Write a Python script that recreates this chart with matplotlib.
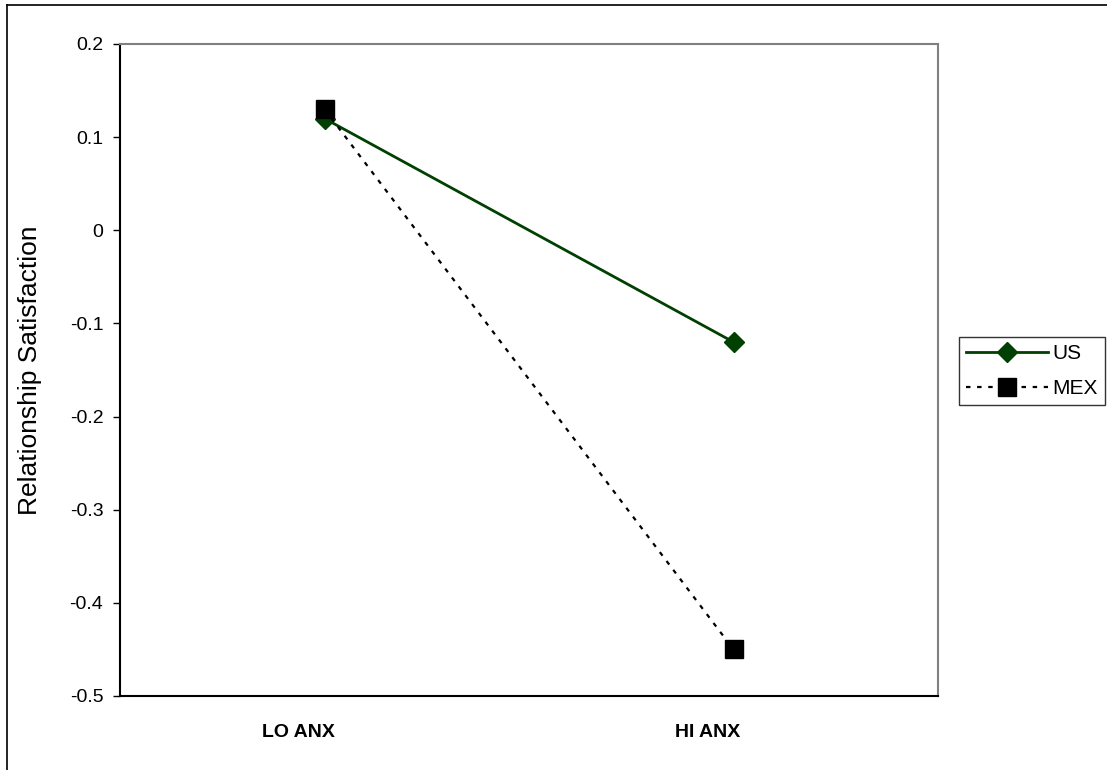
import matplotlib.pyplot as plt
import matplotlib as mpl
from matplotlib.lines import Line2D
from matplotlib.transforms import ScaledTranslation

mpl.rcParams['font.family'] = ['Liberation Sans', 'DejaVu Sans']

# data
categories = ['LO ANX', 'HI ANX']
us_vals = [0.12, -0.12]
mex_vals = [0.13, -0.45]
yticks = [0.2, 0.1, 0, -0.1, -0.2, -0.3, -0.4, -0.5]
ytick_labels = ['0.2', '0.1', '0', '-0.1', '-0.2', '-0.3', '-0.4', '-0.5']

fig = plt.figure(figsize=(11.07, 7.7), dpi=100)
ax = fig.add_axes([120/1107, 74/770, 818/1107, 652/770])

x = list(range(len(categories)))
ax.plot(x, us_vals, color='#004000', lw=2, marker='D', markersize=10,
        label='US', zorder=3)
ax.plot(x, mex_vals, color='black', lw=1.6, ls=(0, (2, 3)), marker='s',
        markersize=12.5, markerfacecolor='black', label='MEX', zorder=4)

ax.set_xlim(-0.5, 1.5)
ax.set_ylim(-0.5, 0.2)
ax.set_yticks(yticks)
ax.set_yticklabels(ytick_labels, fontsize=14)
ax.set_xticks(x)
ax.set_xticklabels(categories, fontsize=14, fontweight='bold')
ax.tick_params(axis='x', length=0, pad=20)
ax.tick_params(axis='y', length=5, width=1, direction='out', pad=7)
for lab in ax.get_xticklabels():
    lab.set_transform(lab.get_transform() + ScaledTranslation(-0.26, 0, fig.dpi_scale_trans))

ax.set_ylabel('Relationship Satisfaction', fontsize=19, labelpad=20)

for s in ['top', 'right']:
    ax.spines[s].set_color('#808080')
    ax.spines[s].set_linewidth(1.5)
for s in ['left', 'bottom']:
    ax.spines[s].set_color('black')
    ax.spines[s].set_linewidth(1.5)

leg = ax.legend(loc='upper left', bbox_to_anchor=(959/1107, 1 - 337/770),
                bbox_transform=fig.transFigure, fontsize=15, frameon=True,
                fancybox=False, edgecolor='black', handlelength=3.9,
                handletextpad=0.25, borderpad=0.35, labelspacing=0.75,
                borderaxespad=0, numpoints=1)
leg.get_frame().set_linewidth(1.0)

# outer chart border (top and left edges visible)
fig.add_artist(Line2D([7/1107, 1], [1 - 5/770, 1 - 5/770], color='black', lw=1.2,
                      transform=fig.transFigure))
fig.add_artist(Line2D([7/1107, 7/1107], [0, 1 - 5/770], color='black', lw=1.2,
                      transform=fig.transFigure))

fig.savefig('out.png', dpi=100)
